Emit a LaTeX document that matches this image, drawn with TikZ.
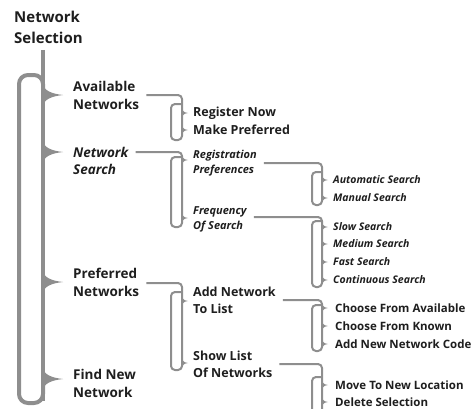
\documentclass[tikz,border=0pt]{standalone}
\usepackage{fontspec}
\setmainfont{Open Sans}
\definecolor{br}{HTML}{8E8E8E}
\definecolor{txt}{HTML}{1E1E1E}
\newcommand\mtick[1]{\fill[br] (42,#1-12) .. controls (44,#1-4) and (52,#1-1.2) .. (63,#1) .. controls (52,#1+1.2) and (44,#1+4) .. (42,#1+12) -- cycle;}
\newcommand\stick[2]{\fill[br] (#1,#2-5) .. controls (#1+0.5,#2-1.5) and (#1+2.5,#2-0.5) .. (#1+6,#2) .. controls (#1+2.5,#2+0.5) and (#1+0.5,#2+1.5) .. (#1,#2+5) -- cycle;}
\begin{document}
\begin{tikzpicture}[x=1pt,y=-1pt,
  mainbar/.style={draw=br,line width=4.2pt},
  loopbar/.style={draw=br,line width=4pt,rounded corners=9pt},
  sub/.style={draw=br,line width=2pt,rounded corners=4pt},
  lab/.style={anchor=west,inner sep=0pt,align=left,text=txt},
  ttl/.style={lab,font=\fontsize{15}{21}\selectfont\bfseries},
  lv1/.style={lab,font=\fontsize{13.5}{18}\selectfont\bfseries},
  lv1i/.style={lab,font=\fontsize{13.5}{17}\selectfont\bfseries\itshape},
  lv2/.style={lab,font=\fontsize{12.5}{17}\selectfont\bfseries},
  lv2i/.style={lab,font=\fontsize{11}{15}\selectfont\bfseries\itshape},
  lv3/.style={lab,font=\fontsize{11.5}{18}\selectfont\bfseries},
  lv3i/.style={lab,font=\fontsize{10.5}{18}\selectfont\bfseries\itshape}]
\useasboundingbox (0,0) rectangle (472,408);
% texts
\node[ttl] (title) at (14,27.5) {Network\\Selection};
\node[lv1] (avail) at (73,95) {Available\\Networks};
\node[lv1i] (ns) at (73,160.5) {Network\\Search};
\node[lv1] (pref) at (73,282.5) {Preferred\\Networks};
\node[lv1] (find) at (73,383) {Find New\\Network};
\node[lv2] (reg) at (193,113) {Register Now};
\node[lv2] (mkp) at (193,130) {Make Preferred};
\node[lv2i] (rp) at (193,163.5) {Registration\\Preferences};
\node[lv2i] (fos) at (193,219.5) {Frequency\\Of Search};
\node[lv2] (addn) at (193,300.5) {Add Network\\To List};
\node[lv2] (show) at (193,364) {Show List\\Of Networks};
\node[lv3i] (auto) at (333,180) {Automatic Search};
\node[lv3i] (man) at (333,198) {Manual Search};
\node[lv3i] (slow) at (333,227) {Slow Search};
\node[lv3i] (med) at (333,244) {Medium Search};
\node[lv3i] (fast) at (333,262) {Fast Search};
\node[lv3i] (cont) at (333,280) {Continuous Search};
\node[lv3] (cfa) at (335,308) {Choose From Available};
\node[lv3] (cfk) at (335,326) {Choose From Known};
\node[lv3] (anc) at (335,344) {Add New Network Code};
\node[lv3] (mtn) at (335,385) {Move To New Location};
\node[lv3] (del) at (335,402) {Delete Selection};
% main bracket
\draw[mainbar] (title.south west -| 43,0) ++(0,6) -- (43,401);
\draw[loopbar] (43,92) -- (43,75) -- (19,75) -- (19,403) -- (43,403) -- (43,385);
\mtick{95}\mtick{152}\mtick{282}\mtick{379}
% Available Networks
\draw[sub] ([xshift=7pt]avail.east |- 0,95) -- (182,95) -- (182,140) -- (171,140) -- (171,104) -- (182,104);
\stick{182}{113}\stick{182}{130}
% Network Search
\draw[sub] ([xshift=7pt]ns.east |- 0,152) -- (182,152) -- (182,227) -- (171,227) -- (171,157) -- (182,157);
\stick{182}{160}\stick{182}{218}
% Registration Preferences
\draw[sub] ([xshift=7pt]rp.east |- 0,163) -- (322,163) -- (322,205) -- (312,205) -- (312,172) -- (322,172);
\stick{322}{180}\stick{322}{198}
% Frequency Of Search
\draw[sub] ([xshift=7pt]fos.east |- 0,217) -- (322,217) -- (322,287) -- (312,287) -- (312,221) -- (322,221);
\stick{322}{227}\stick{322}{244}\stick{322}{262}\stick{322}{280}
% Preferred Networks
\draw[sub] ([xshift=7pt]pref.east |- 0,283) -- (182,283) -- (182,370) -- (171,370) -- (171,292) -- (182,292);
\stick{182}{301}\stick{182}{363}
% Add Network To List
\draw[sub] ([xshift=7pt]addn.east |- 0,300) -- (322,300) -- (322,351) -- (312,351) -- (312,305) -- (322,305);
\stick{322}{308}\stick{322}{326}\stick{322}{344}
% Show List Of Networks
\draw[sub] ([xshift=7pt]show.east |- 0,364) -- (322,364) -- (322,420) -- (312,420) -- (312,377) -- (322,377);
\stick{322}{385}\stick{322}{402}
\end{tikzpicture}
\end{document}
